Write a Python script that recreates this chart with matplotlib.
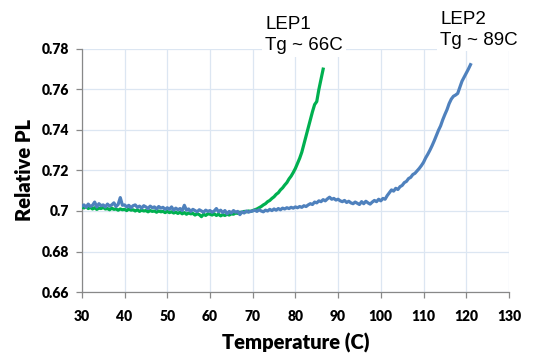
import numpy as np
import matplotlib.pyplot as plt

# relative PL vs temperature (0.5 C steps)
temp_lep1 = np.arange(30, 86.51, 0.5)
pl_lep1 = [
    0.7020, 0.7015, 0.7022, 0.7012, 0.7018, 0.7010, 0.7016, 0.7008, 0.7014, 0.7012,
    0.7018, 0.7010, 0.7012, 0.7006, 0.7014, 0.7008, 0.7010, 0.7004, 0.7010, 0.7006,
    0.7008, 0.7002, 0.7010, 0.7004, 0.7006, 0.7000, 0.7006, 0.6998, 0.7004, 0.7000,
    0.7002, 0.6996, 0.7002, 0.6998, 0.7000, 0.6994, 0.7000, 0.6996, 0.6998, 0.6992,
    0.6998, 0.6992, 0.6996, 0.6990, 0.6994, 0.6988, 0.6994, 0.6986, 0.6992, 0.6984,
    0.6990, 0.6986, 0.6988, 0.6980, 0.6986, 0.6982, 0.6972, 0.6984, 0.6978, 0.6986,
    0.6984, 0.6980, 0.6986, 0.6978, 0.6984, 0.6976, 0.6982, 0.6978, 0.6984, 0.6980,
    0.6986, 0.6984, 0.6990, 0.6988, 0.6994, 0.6992, 0.6998, 0.6996, 0.7000, 0.6998,
    0.7002, 0.7006, 0.7010, 0.7016, 0.7022, 0.7030, 0.7036, 0.7046, 0.7052, 0.7062,
    0.7070, 0.7082, 0.7090, 0.7104, 0.7114, 0.7128, 0.7140, 0.7158, 0.7172, 0.7190,
    0.7210, 0.7235, 0.7260, 0.7290, 0.7330, 0.7370, 0.7410, 0.7450, 0.7490, 0.7525,
    0.7540, 0.7600, 0.7650, 0.7700,
]

temp_lep2 = np.arange(30, 121.01, 0.5)
pl_lep2 = [
    0.7024, 0.7030, 0.7018, 0.7034, 0.7022, 0.7028, 0.7044, 0.7020, 0.7036, 0.7026,
    0.7030, 0.7020, 0.7034, 0.7024, 0.7030, 0.7040, 0.7022, 0.7032, 0.7066, 0.7028,
    0.7030, 0.7020, 0.7028, 0.7016, 0.7026, 0.7030, 0.7018, 0.7024, 0.7014, 0.7026,
    0.7020, 0.7012, 0.7024, 0.7016, 0.7020, 0.7010, 0.7022, 0.7014, 0.7018, 0.7008,
    0.7016, 0.7008, 0.7020, 0.7004, 0.7014, 0.7006, 0.7012, 0.7002, 0.7028, 0.7004,
    0.7010, 0.6998, 0.7008, 0.7002, 0.6996, 0.7006, 0.7000, 0.6994, 0.7004, 0.6998,
    0.7002, 0.6994, 0.7000, 0.7012, 0.6996, 0.7004, 0.6992, 0.7002, 0.6986, 0.6998,
    0.6990, 0.7002, 0.6994, 0.6998, 0.6982, 0.6996, 0.6990, 0.7000, 0.6994, 0.6998,
    0.7000, 0.7004, 0.6998, 0.7006, 0.7000, 0.6996, 0.7004, 0.7000, 0.7008, 0.7002,
    0.7010, 0.7004, 0.7012, 0.7006, 0.7014, 0.7010, 0.7016, 0.7012, 0.7018, 0.7014,
    0.7020, 0.7016, 0.7022, 0.7018, 0.7026, 0.7022, 0.7030, 0.7036, 0.7032, 0.7044,
    0.7040, 0.7050, 0.7046, 0.7056, 0.7050, 0.7060, 0.7068, 0.7058, 0.7062, 0.7054,
    0.7058, 0.7050, 0.7046, 0.7052, 0.7042, 0.7048, 0.7040, 0.7036, 0.7044, 0.7038,
    0.7032, 0.7046, 0.7036, 0.7048, 0.7040, 0.7034, 0.7044, 0.7052, 0.7046, 0.7058,
    0.7050, 0.7062, 0.7058, 0.7076, 0.7090, 0.7104, 0.7098, 0.7112, 0.7106, 0.7120,
    0.7126, 0.7140, 0.7146, 0.7160, 0.7166, 0.7180, 0.7186, 0.7198, 0.7210, 0.7224,
    0.7240, 0.7262, 0.7280, 0.7300, 0.7322, 0.7346, 0.7372, 0.7398, 0.7420, 0.7450,
    0.7476, 0.7500, 0.7530, 0.7552, 0.7566, 0.7572, 0.7580, 0.7610, 0.7640, 0.7660,
    0.7680, 0.7700, 0.7722,
]

x_ticks = list(range(30, 131, 10))
y_ticks = [0.66, 0.68, 0.7, 0.72, 0.74, 0.76, 0.78]
y_labels = ['0.66', '0.68', '0.7', '0.72', '0.74', '0.76', '0.78']

# Calibri-like bold for ticks/labels, Arial-like for the notes
tick_font = ['Lato', 'DejaVu Sans']

fig = plt.figure(figsize=(5.42, 3.54), dpi=100)
ax = fig.add_axes([0.151, 0.175, 0.788, 0.687])

ax.plot(temp_lep1, pl_lep1, color='#00b050', lw=2.3, zorder=3)
ax.plot(temp_lep2, pl_lep2, color='#4f81bd', lw=2.3, zorder=4)

ax.set_xlim(30, 130)
ax.set_ylim(0.66, 0.78)
ax.set_xticks(x_ticks)
ax.set_yticks(y_ticks)
ax.set_yticklabels(y_labels)
ax.grid(True, color='#dce6f2', lw=0.9)
ax.set_axisbelow(True)

for s in ['top', 'right']:
    ax.spines[s].set_visible(False)
for s in ['left', 'bottom']:
    ax.spines[s].set_color('#888888')
    ax.spines[s].set_linewidth(0.9)

ax.tick_params(axis='both', direction='out', length=4, color='#888888', width=0.9)
ax.tick_params(axis='x', pad=9)
ax.tick_params(axis='y', pad=5)
for lab in ax.get_xticklabels() + ax.get_yticklabels():
    lab.set_family(tick_font)
    lab.set_fontweight('heavy')
    lab.set_fontsize(10)

ax.set_xlabel('Temperature (C)', family=tick_font, fontweight='heavy', fontsize=14.5, labelpad=7)
ax.set_ylabel('Relative PL', family=tick_font, fontweight='heavy', fontsize=14.5, labelpad=6)

box = dict(facecolor='white', edgecolor='none', pad=2)
fig.text(0.489, 0.955, 'LEP1\nTg ~ 66C', family='Liberation Sans', fontsize=13.5,
         va='top', ha='left', linespacing=1.3, bbox=box)
fig.text(0.812, 0.97, 'LEP2\nTg ~ 89C', family='Liberation Sans', fontsize=13.5,
         va='top', ha='left', linespacing=1.3, bbox=box)

fig.savefig('out.png', dpi=100)
